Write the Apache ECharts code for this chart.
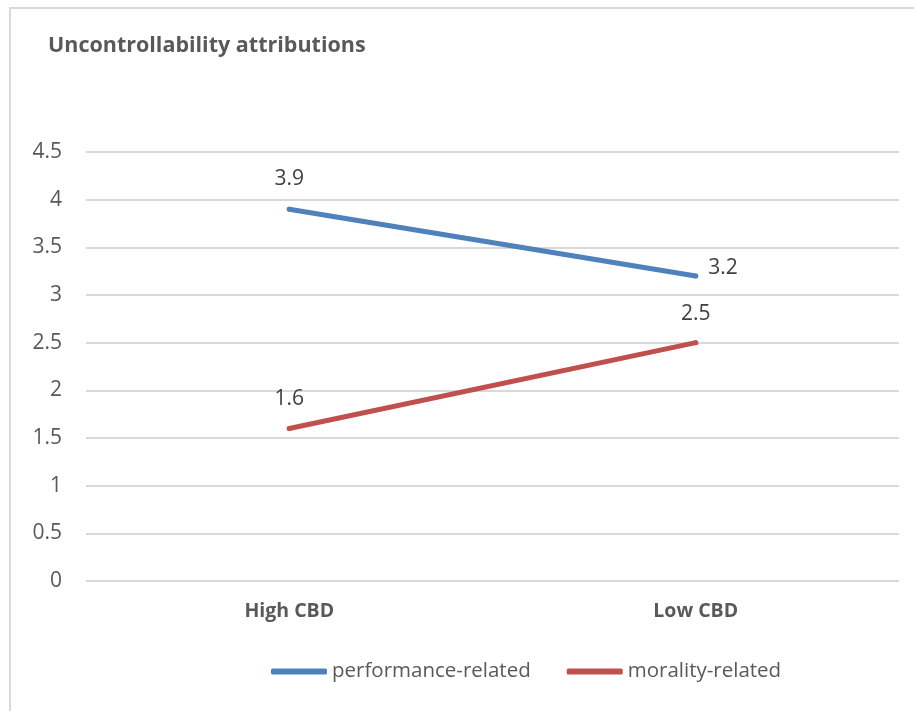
<!DOCTYPE html>
<html>
<head>
<meta charset="utf-8">
<script src="https://cdn.jsdelivr.net/npm/echarts@6/dist/echarts.min.js"></script>
<style>
  html, body { margin: 0; padding: 0; background: #fff; }
  #chart { width: 914px; height: 711px; }
</style>
</head>
<body>
<div id="chart"></div>
<script>
// Categories and series values
const categories = ['High CBD', 'Low CBD'];
const performanceRelated = [3.9, 3.2];
const moralityRelated = [1.6, 2.5];
const yTicks = [0, 0.5, 1, 1.5, 2, 2.5, 3, 3.5, 4, 4.5];

const FONT = '"Open Sans", "Noto Sans", sans-serif';
const TEXT = '#595959';

const chart = echarts.init(document.getElementById('chart'), null, { renderer: 'canvas' });

// Per-point label placement: above the point, or to its right (slightly raised)
const LABEL_TOP = { position: 'top' };
const LABEL_RIGHT = { position: 'right', distance: 10, offset: [0, -8] };
function labelled(values, labels) {
  return values.map((v, i) => ({ value: v, label: labels[i] }));
}

chart.setOption({
  animation: false,
  backgroundColor: '#ffffff',
  graphic: [{
    type: 'rect',
    shape: { x: 10, y: 8, width: 920, height: 720 },
    style: { fill: 'none', stroke: '#d9d9d9', lineWidth: 2 },
    silent: true
  }],
  title: {
    text: 'Uncontrollability attributions',
    left: 43,
    top: 30,
    textStyle: { fontFamily: FONT, fontWeight: 'bold', fontSize: 21.5, color: TEXT }
  },
  legend: {
    top: 661,
    left: 271,
    padding: 0,
    icon: 'roundRect',
    itemWidth: 56,
    itemHeight: 6,
    itemGap: 36,
    textStyle: { fontFamily: FONT, fontSize: 20.5, color: TEXT },
    data: ['performance-related', 'morality-related']
  },
  grid: { left: 86, right: 15, top: 152, bottom: 130 },
  xAxis: {
    type: 'category',
    data: categories,
    boundaryGap: true,
    axisLine: { show: false },
    axisTick: { show: false },
    axisLabel: { fontFamily: FONT, fontWeight: 'bold', fontSize: 19.5, color: TEXT, margin: 20 }
  },
  yAxis: {
    type: 'value',
    min: yTicks[0],
    max: yTicks[yTicks.length - 1],
    interval: 0.5,
    axisLine: { show: false },
    axisTick: { show: false },
    axisLabel: { fontFamily: FONT, fontSize: 21, color: TEXT, margin: 24 },
    splitLine: { lineStyle: { color: '#d9d9d9', width: 2 } }
  },
  series: [
    {
      name: 'performance-related',
      type: 'line',
      data: labelled(performanceRelated, [LABEL_TOP, LABEL_RIGHT]),
      symbol: 'circle',
      symbolSize: 5,
      color: '#4f81bd',
      lineStyle: { width: 5, cap: 'round', color: '#4f81bd' },
      label: { show: true, distance: 17, fontFamily: FONT, fontSize: 21, color: '#404040' }
    },
    {
      name: 'morality-related',
      type: 'line',
      data: labelled(moralityRelated, [LABEL_TOP, LABEL_TOP]),
      symbol: 'circle',
      symbolSize: 5,
      color: '#c0504d',
      lineStyle: { width: 5, cap: 'round', color: '#c0504d' },
      label: { show: true, distance: 16, fontFamily: FONT, fontSize: 21, color: '#404040' }
    }
  ]
});
</script>
</body>
</html>
